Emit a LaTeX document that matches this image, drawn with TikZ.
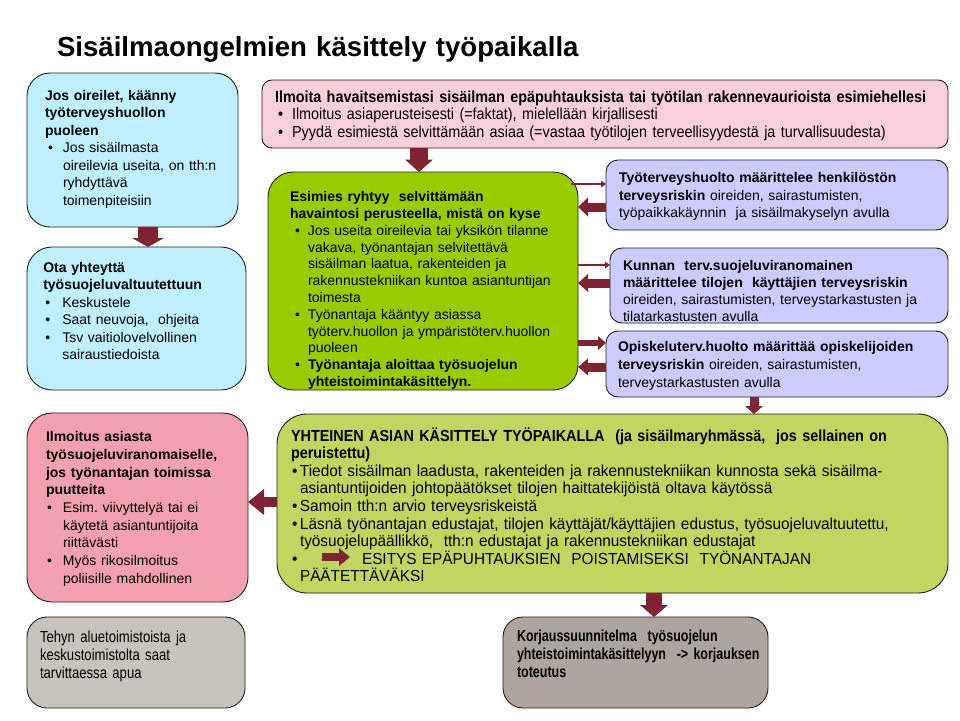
\documentclass[tikz,border=0pt]{standalone}
\usepackage{fontspec}
\setmainfont{Liberation Sans}
\newfontfamily\condA[FakeStretch=0.90]{Liberation Sans}
\newfontfamily\condB[FakeStretch=0.96]{Liberation Sans}
\newfontfamily\condC[FakeStretch=0.82]{Liberation Sans}
\newfontfamily\condD[FakeStretch=0.78]{Liberation Sans}
\usetikzlibrary{arrows.meta}
\definecolor{cyanA}{RGB}{190,240,255}
\definecolor{pinkA}{RGB}{249,208,218}
\definecolor{greenA}{RGB}{153,204,0}
\definecolor{lavA}{RGB}{204,204,255}
\definecolor{pinkB}{RGB}{243,161,176}
\definecolor{greenB}{RGB}{191,215,96}
\definecolor{grayA}{RGB}{201,196,187}
\definecolor{grayB}{RGB}{174,166,158}
\definecolor{arrowc}{RGB}{128,36,52}
\definecolor{boxline}{RGB}{30,30,30}
\newlength{\bi}
\setlength{\bi}{18pt}
\newcommand{\bul}[1][0pt]{\par\hangindent=\bi\hangafter=1\noindent\makebox[\bi][l]{\hspace*{#1}\textbullet}}
\newcommand{\fs}[1]{\fontsize{14}{#1}\selectfont}
\newcommand{\fsz}[2]{\fontsize{#1}{#2}\selectfont}
\newcommand{\nl}{\newline}
\begin{document}
\begin{tikzpicture}[x=1pt,y=-1pt,
  box/.style={draw=boxline, line width=0.9pt, anchor=north west, inner sep=0pt, outer sep=0pt},
  txt/.style={anchor=base west, inner sep=0pt, outer sep=0pt, align=left, text width=#1},
  barrow/.style n args={3}{draw=arrowc, line width=#1, -{Triangle[width=#2, length=#3, line width=0pt]}},
  thinarrow/.style={draw=arrowc, line width=2.6pt, -{Triangle[width=7pt, length=5pt, line width=0pt]}}
]
\useasboundingbox (0,0) rectangle (960,720);
\fill[white] (0,0) rectangle (960,720);

\node[txt=700pt, font=\bfseries\fsz{27.6}{32}] (title) at (57,56) {Sisäilmaongelmien käsittely työpaikalla};

% boxes
\node[box, fill=cyanA, minimum width=211pt, minimum height=154pt, rounded corners=23pt] (c1) at (27,73) {};
\node[box, fill=pinkA, minimum width=686pt, minimum height=68pt, rounded corners=10pt] (p1) at (262,80) {};
\node[box, fill=greenA, minimum width=310pt, minimum height=218pt, rounded corners=25pt] (g1) at (268,172) {};
\node[box, fill=lavA, minimum width=342pt, minimum height=70pt, rounded corners=12pt] (l1) at (606,160) {};
\node[box, fill=lavA, minimum width=338pt, minimum height=75pt, rounded corners=12pt] (l2) at (610,248) {};
\node[box, fill=lavA, minimum width=342pt, minimum height=66pt, rounded corners=12pt] (l3) at (606,331) {};
\node[box, fill=cyanA, minimum width=219pt, minimum height=143pt, rounded corners=25pt] (c2) at (27,247) {};
\node[box, fill=pinkB, minimum width=221pt, minimum height=189pt, rounded corners=25pt] (pl) at (27,413) {};
\node[box, fill=greenB, minimum width=671pt, minimum height=179pt, rounded corners=30pt] (bg) at (277,414) {};
\node[box, fill=grayA, minimum width=218pt, minimum height=91pt, rounded corners=20pt] (gl) at (27,617) {};
\node[box, fill=grayB, minimum width=265pt, minimum height=91pt, rounded corners=20pt] (gr) at (503,617) {};

% texts
\node[txt=200pt, font=\fs{17.5}] (c1t) at (45,100) {\setlength{\bi}{18pt}\textbf{Jos oireilet, käänny\\ työterveyshuollon\\ puoleen}\bul[3pt]Jos sisäilmasta\nl oireilevia useita, on tth:n\nl ryhdyttävä\nl toimenpiteisiin\par};

\node[txt=690pt, font=\condA\fsz{16}{17.5}] (p1t) at (275,102) {\setlength{\bi}{17pt}\textbf{Ilmoita havaitsemistasi sisäilman epäpuhtauksista tai työtilan rakennevaurioista esimiehellesi}\bul[3pt]Ilmoitus asiaperusteisesti (=faktat), mielellään kirjallisesti\bul[3pt]Pyydä esimiestä selvittämään asiaa (=vastaa työtilojen terveellisyydestä ja turvallisuudesta)\par};

\node[txt=300pt, font=\fs{16.8}] (g1t) at (290,201.7) {\setlength{\bi}{18pt}\textbf{Esimies ryhtyy\ \ selvittämään\\ havaintosi perusteella, mistä on kyse}\bul[5pt]Jos useita oireilevia tai yksikön tilanne\nl vakava, työnantajan selvitettävä\nl sisäilman laatua, rakenteiden ja\nl rakennustekniikan kuntoa asiantuntijan\nl toimesta\bul[5pt]Työnantaja kääntyy asiassa\nl työterv.huollon ja ympäristöterv.huollon\nl puoleen\bul[5pt]\textbf{Työnantaja aloittaa työsuojelun\nl yhteistoimintakäsittelyn.}\par};

\node[txt=330pt, font=\fs{17.3}] (l1t) at (619,182.7) {\textbf{Työterveyshuolto määrittelee henkilöstön}\\ \textbf{terveysriskin} oireiden,\ sairastumisten,\\ työpaikkakäynnin\ \ ja sisäilmakyselyn avulla};

\node[txt=330pt, font=\fs{17.3}] (l2t) at (623,270) {\textbf{Kunnan\ \ terv.suojeluviranomainen\\ määrittelee tilojen\ \ käyttäjien terveysriskin}\\ oireiden,\ sairastumisten, terveystarkastusten ja\\ tilatarkastusten avulla};

\node[txt=330pt, font=\fs{18}] (l3t) at (618,351.7) {\textbf{Opiskeluterv.huolto määrittää opiskelijoiden}\\ \textbf{terveysriskin} oireiden,\ sairastumisten,\\ terveystarkastusten avulla};

\node[txt=200pt, font=\fs{17.5}] (c2t) at (43.3,272.3) {\setlength{\bi}{19pt}\textbf{Ota yhteyttä\\ työsuojeluvaltuutettuun}\bul[2pt]Keskustele\bul[2pt]Saat neuvoja,\ \ ohjeita\bul[2pt]Tsv vaitiolovelvollinen\nl sairaustiedoista\par};

\node[txt=200pt, font=\fs{17.7}] (plt) at (46,441.7) {\setlength{\bi}{17pt}\textbf{Ilmoitus asiasta\\ työsuojeluviranomaiselle,\\ jos työnantajan toimissa\\ puutteita}\bul[1pt]Esim.\ viivyttelyä tai ei\nl käytetä asiantuntijoita\nl riittävästi\bul[1pt]Myös rikosilmoitus\nl poliisille mahdollinen\par};

\node[txt=660pt, font=\condB\fsz{16}{17.6}] (bgt) at (291,441) {\setlength{\bi}{9pt}{\condA\bfseries YHTEINEN ASIAN KÄSITTELY TYÖPAIKALLA\ \ (ja sisäilmaryhmässä,\ \ jos sellainen on\\ peruistettu)}\bul[1pt]Tiedot sisäilman laadusta, rakenteiden ja rakennustekniikan kunnosta sekä sisäilma-\nl asiantuntijoiden johtopäätökset tilojen haittatekijöistä oltava käytössä\bul[1pt]Samoin tth:n arvio terveysriskeistä\bul[1pt]Läsnä työnantajan edustajat, tilojen käyttäjät/käyttäjien edustus, työsuojeluvaltuutettu,\nl työsuojelupäällikkö,\ \ tth:n edustajat ja rakennustekniikan edustajat\bul[1pt]\hspace*{62pt}ESITYS EPÄPUHTAUKSIEN\ \ POISTAMISEKSI\ \ TYÖNANTAJAN\nl PÄÄTETTÄVÄKSI\par};

\node[txt=200pt, font=\condC\fsz{16}{18}] (glt) at (40,642) {Tehyn aluetoimistoista ja\\ keskustoimistolta saat\\ tarvittaessa apua};

\node[txt=250pt, font=\condD\bfseries\fsz{16}{18}] (grt) at (517,641) {Korjaussuunnitelma\ \ työsuojelun\\ yhteistoimintakäsittelyyn\ \ -> korjauksen\\ toteutus};

% arrows
\coordinate (xa) at (419,0);
\coordinate (xb) at (148,0);
\coordinate (xc) at (754,0);
\coordinate (xd) at (654,0);
\coordinate (ya) at (0,502);
\coordinate (y1) at (0,184);
\coordinate (y2) at (0,207);
\coordinate (y3) at (0,265);
\coordinate (y4) at (0,283);
\coordinate (y5) at (0,343);
\coordinate (y6) at (0,367);
\draw[barrow={18pt}{28pt}{12.5pt}] (p1.south -| xa) -- (g1.north -| xa);
\draw[barrow={20pt}{32pt}{9pt}] (c1.south -| xb) -- (c2.north -| xb);
\draw[barrow={9pt}{18pt}{8pt}] (l3.south -| xc) -- (bg.north -| xc);
\draw[barrow={16pt}{28pt}{12pt}] (bg.south -| xd) -- (gr.north -| xd);
\draw[barrow={10pt}{26pt}{16pt}] (bg.west |- ya) -- (pl.east |- ya);
\draw[thinarrow] ([xshift=-7pt]g1.east |- y1) -- (l1.west |- y1);
\draw[barrow={9pt}{19pt}{10pt}] (l1.west |- y2) -- (g1.east |- y2);
\draw[thinarrow] (g1.east |- y3) -- (l2.west |- y3);
\draw[barrow={9pt}{18pt}{10pt}] (l2.west |- y4) -- (g1.east |- y4);
\draw[barrow={6pt}{14pt}{8pt}] (g1.east |- y5) -- (l3.west |- y5);
\draw[barrow={9pt}{17pt}{10pt}] (l3.west |- y6) -- (g1.east |- y6);
\coordinate (ia) at (322,557);
\coordinate (ib) at (350,557);
\draw[barrow={8pt}{18pt}{11pt}] (ia) -- (ib);
\end{tikzpicture}
\end{document}
